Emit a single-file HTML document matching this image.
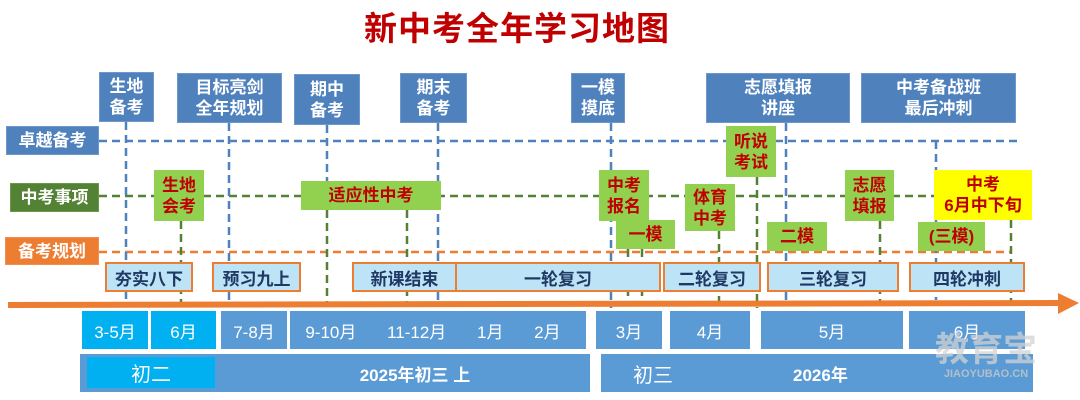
<!DOCTYPE html>
<html><head><meta charset="utf-8"><style>
body{margin:0;width:1080px;height:400px;background:#fff;position:relative;overflow:hidden;font-family:"Liberation Sans","Noto Sans CJK SC",sans-serif}
.a{position:absolute;display:flex;align-items:center;justify-content:center;text-align:center;box-sizing:border-box;white-space:nowrap}
.tb{background:#4f81bd;color:#fff;font-weight:bold;font-size:17px;line-height:21px;border:1px solid #6f97cc}
.g{background:#92d050;color:#c00000;font-weight:bold;font-size:17px;line-height:21px}
.st{background:#bde3f6;border:2px solid #ed7d31;color:#1f3864;font-weight:bold;font-size:17px}
.m{background:#5b9bd5;color:#fff;font-size:17px}
.c{background:#00b0f0;color:#fff;font-size:17px}
</style></head><body>
<div class="a" style="left:360px;top:6px;width:314px;height:40px;color:#c00000;font-size:33px;font-weight:bold;letter-spacing:1px">新中考全年学习地图</div>
<svg width="1080" height="400" style="position:absolute;left:0;top:0">
<g stroke-dasharray="8,5" stroke-width="2.5" fill="none">
<line x1="99" y1="141" x2="1018" y2="141" stroke="#4f81bd"/>
<line x1="99" y1="196" x2="940" y2="196" stroke="#548235"/>
<line x1="99" y1="252" x2="1010" y2="252" stroke="#ed7d31"/>
<g stroke="#4f81bd">
<line x1="126" y1="122" x2="126" y2="304"/><line x1="229" y1="123" x2="229" y2="304"/>
<line x1="327" y1="125" x2="327" y2="181"/><line x1="438" y1="123" x2="438" y2="304"/>
<line x1="611" y1="123" x2="611" y2="308"/><line x1="786" y1="123" x2="786" y2="300"/>
<line x1="936" y1="141" x2="936" y2="300"/>
</g>
<g stroke="#548235">
<line x1="181" y1="221" x2="181" y2="306"/><line x1="327" y1="210" x2="327" y2="306"/>
<line x1="407" y1="210" x2="407" y2="306"/><line x1="628" y1="249" x2="628" y2="306"/>
<line x1="642" y1="249" x2="642" y2="306"/><line x1="719" y1="231" x2="719" y2="306"/>
<line x1="757" y1="177" x2="757" y2="308"/><line x1="880" y1="221" x2="880" y2="306"/>
<line x1="1011" y1="220" x2="1011" y2="306"/>
</g></g>
<line x1="8" y1="305" x2="1060" y2="303" stroke="#ed7d31" stroke-width="6"/>
<polygon points="1058,293 1079,303 1058,314" fill="#ed7d31"/>
</svg>
<div class="a tb" style="left:99px;top:72px;width:55px;height:50px">生地<br>备考</div>
<div class="a tb" style="left:177px;top:73px;width:105px;height:50px">目标亮剑<br>全年规划</div>
<div class="a tb" style="left:294px;top:74px;width:66px;height:51px">期中<br>备考</div>
<div class="a tb" style="left:400px;top:73px;width:67px;height:50px">期末<br>备考</div>
<div class="a tb" style="left:571px;top:73px;width:54px;height:50px">一模<br>摸底</div>
<div class="a tb" style="left:706px;top:73px;width:144px;height:50px">志愿填报<br>讲座</div>
<div class="a tb" style="left:861px;top:73px;width:155px;height:50px">中考备战班<br>最后冲刺</div>
<div class="a tb" style="left:6px;top:126px;width:93px;height:29px">卓越备考</div>
<div class="a tb" style="left:10px;top:183px;width:89px;height:29px;background:#548235;border-color:#6a9a47">中考事项</div>
<div class="a tb" style="left:5px;top:237px;width:94px;height:28px;background:#ed7d31;border-color:#f09050">备考规划</div>
<div class="a g" style="left:154px;top:170px;width:50px;height:51px">生地<br>会考</div>
<div class="a g" style="left:301px;top:181px;width:140px;height:29px">适应性中考</div>
<div class="a g" style="left:599px;top:170px;width:50px;height:51px">中考<br>报名</div>
<div class="a g" style="left:616px;top:220px;width:59px;height:29px">一模</div>
<div class="a g" style="left:685px;top:184px;width:50px;height:47px">体育<br>中考</div>
<div class="a g" style="left:726px;top:126px;width:50px;height:51px">听说<br>考试</div>
<div class="a g" style="left:845px;top:170px;width:49px;height:51px">志愿<br>填报</div>
<div class="a g" style="left:934px;top:170px;width:98px;height:50px;background:#ffff00">中考<br>6月中下旬</div>
<div class="a g" style="left:767px;top:222px;width:60px;height:29px">二模</div>
<div class="a g" style="left:918px;top:222px;width:67px;height:29px">(三模)</div>
<div class="a st" style="left:105px;top:262px;width:88px;height:30px">夯实八下</div>
<div class="a st" style="left:212px;top:262px;width:89px;height:30px">预习九上</div>
<div class="a st" style="left:352px;top:262px;width:105px;height:30px">新课结束</div>
<div class="a st" style="left:455px;top:262px;width:206px;height:30px">一轮复习</div>
<div class="a st" style="left:663px;top:262px;width:98px;height:30px">二轮复习</div>
<div class="a st" style="left:767px;top:262px;width:132px;height:30px">三轮复习</div>
<div class="a st" style="left:909px;top:262px;width:116px;height:30px">四轮冲刺</div>
<div class="a c" style="left:82px;top:311px;width:66px;height:38px">3-5月</div>
<div class="a c" style="left:151px;top:311px;width:65px;height:38px">6月</div>
<div class="a m" style="left:221px;top:311px;width:66px;height:38px">7-8月</div>
<div class="a m" style="left:290px;top:311px;width:296px;height:38px;justify-content:space-around;padding:0 10px 0 0"><span>9-10月</span><span>11-12月</span><span>1月</span><span>2月</span></div>
<div class="a m" style="left:596px;top:311px;width:66px;height:38px">3月</div>
<div class="a m" style="left:670px;top:311px;width:80px;height:38px">4月</div>
<div class="a m" style="left:761px;top:311px;width:142px;height:38px">5月</div>
<div class="a m" style="left:909px;top:311px;width:116px;height:38px">6月</div>
<div class="a m" style="left:80px;top:354px;width:510px;height:38px;font-weight:bold;padding-left:160px">2025年初三 上</div>
<div class="a c" style="left:87px;top:357px;width:128px;height:31px;font-size:20px">初二</div>
<div class="a m" style="left:601px;top:354px;width:432px;height:38px;font-weight:bold;justify-content:flex-start"><span style="font-weight:normal;font-size:20px;margin-left:32px">初三</span><span style="margin-left:120px">2026年</span></div>
<div class="a" style="left:930px;top:326px;width:112px;height:40px;color:rgba(210,210,210,0.75);font-size:34px;font-weight:bold">教育宝</div>
<div class="a" style="left:930px;top:366px;width:112px;height:16px;color:rgba(200,200,200,0.8);font-size:11px;font-weight:bold">JIAOYUBAO.CN</div>
</body></html>
